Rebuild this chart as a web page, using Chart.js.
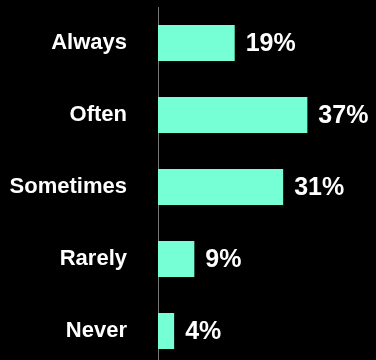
<!DOCTYPE html>
<html>
<head>
<meta charset="utf-8">
<script src="https://cdn.jsdelivr.net/npm/chart.js@4"></script>
<style>
  html, body { margin: 0; padding: 0; background: #000; overflow: hidden; }
  #wrap { position: relative; width: 376px; height: 367px; }
</style>
</head>
<body>
<div id="wrap"><canvas id="chart"></canvas></div>
<script>
const categories = ["Always", "Often", "Sometimes", "Rarely", "Never"];
const shares = [19, 37, 31, 9, 4];
const valueLabels = ["19%", "37%", "31%", "9%", "4%"];

// writes the % next to each bar
const valueLabelPlugin = {
  id: "valueLabels",
  afterDatasetsDraw(chart) {
    const ctx = chart.ctx;
    const meta = chart.getDatasetMeta(0);
    ctx.save();
    ctx.fillStyle = "#ffffff";
    ctx.font = "bold 25px 'Liberation Sans', Arial, sans-serif";
    ctx.textAlign = "left";
    ctx.textBaseline = "middle";
    meta.data.forEach((bar, i) => {
      ctx.fillText(valueLabels[i], bar.x + 11, bar.y + 1);
    });
    ctx.restore();
  },
};

new Chart(document.getElementById("chart"), {
  type: "bar",
  data: {
    labels: categories,
    datasets: [
      {
        data: shares,
        backgroundColor: "#76ffd4",
        barPercentage: 0.5,
        categoryPercentage: 1,
      },
    ],
  },
  options: {
    indexAxis: "y",
    responsive: true,
    maintainAspectRatio: false,
    animation: false,
    layout: { padding: { top: 7, right: 0, bottom: 0, left: 0 } },
    plugins: { legend: { display: false }, tooltip: { enabled: false } },
    scales: {
      x: { display: false, min: 0, max: 54 },
      y: {
        afterFit(scale) {
          // fixed axis width, and drop the label padding chart.js adds above/below
          scale.width = 158;
          scale.paddingTop = 0;
          scale.paddingBottom = 0;
        },
        grid: { display: false, drawTicks: false },
        border: { color: "#777777", width: 1 },
        ticks: {
          color: "#ffffff",
          padding: 31,
          font: { family: "'Liberation Sans', Arial, sans-serif", size: 22, weight: "bold" },
        },
      },
    },
  },
  plugins: [valueLabelPlugin],
});
</script>
</body>
</html>
